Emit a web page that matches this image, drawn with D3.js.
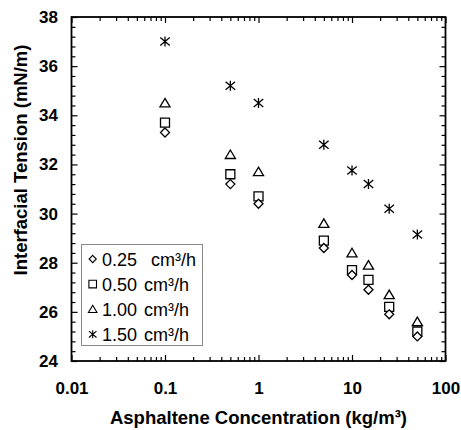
<!DOCTYPE html>
<html>
<head>
<meta charset="utf-8">
<script src="https://cdn.jsdelivr.net/npm/d3@7"></script>
<style>
  html, body { margin: 0; padding: 0; background: #fff; }
  svg { display: block; }
  text { font-family: "Liberation Sans", Arial, sans-serif; fill: #000; }
</style>
</head>
<body>
<svg id="chart" width="461" height="430"></svg>
<script>
// Asphaltene concentration (kg/m³)
const concentrations = [0.1, 0.5, 1, 5, 10, 15, 25, 50];

// Interfacial tension (mN/m) for each flow rate
const ift025 = [33.3, 31.2, 30.4, 28.6, 27.5, 26.9, 25.9, 25.0];
const ift050 = [33.7, 31.6, 30.7, 28.9, 27.7, 27.3, 26.2, 25.2];
const ift100 = [34.5, 32.4, 31.7, 29.6, 28.4, 27.9, 26.7, 25.6];
const ift150 = [37.0, 35.2, 34.5, 32.8, 31.75, 31.2, 30.2, 29.15];

const flowRates = ["0.25", "0.50", "1.00", "1.50"];
const flowUnit = "cm³/h";

// Tick values
const xTickValues = [0.01, 0.1, 1, 10, 100];
const xTickLabels = ["0.01", "0.1", "1", "10", "100"];
const yTickValues = [24, 26, 28, 30, 32, 34, 36, 38];

const svg = d3.select("#chart");
const plotLeft = 71.5, plotRight = 445.5, plotTop = 17, plotBottom = 361;

const x = d3.scaleLog().domain([0.01, 100]).range([plotLeft, plotRight]);
const y = d3.scaleLinear().domain([24, 38]).range([plotBottom, plotTop]);

// minor ticks
const xMinor = [];
[0.01, 0.1, 1, 10].forEach(d => { for (let k = 2; k <= 9; k++) xMinor.push(d * k); });
const yMinor = d3.range(24, 38.001, 0.4).map(v => +v.toFixed(1)).filter(v => Math.abs(v / 2 - Math.round(v / 2)) > 1e-6);

const MAJ = 6, MIN = 4;
function styleAxis(g) {
  g.select(".domain").remove();
  g.selectAll(".tick line").attr("stroke", "#000").attr("stroke-width", 1.2);
}

// bottom axis with labels
svg.append("g").attr("transform", `translate(0,${plotBottom})`)
  .call(d3.axisBottom(x).tickValues(xTickValues).tickSize(-MAJ).tickPadding(21)
    .tickFormat((d, i) => xTickLabels[i]))
  .call(styleAxis)
  .call(g => g.selectAll("text").style("font-size", "17px").style("font-weight", "bold"));
svg.append("g").attr("transform", `translate(0,${plotBottom})`)
  .call(d3.axisBottom(x).tickValues(xMinor).tickSize(-MIN).tickFormat(""))
  .call(styleAxis);

// top axis
svg.append("g").attr("transform", `translate(0,${plotTop})`)
  .call(d3.axisTop(x).tickValues(xTickValues).tickSize(-MAJ).tickFormat(""))
  .call(styleAxis);
svg.append("g").attr("transform", `translate(0,${plotTop})`)
  .call(d3.axisTop(x).tickValues(xMinor).tickSize(-MIN).tickFormat(""))
  .call(styleAxis);

// left axis with labels
svg.append("g").attr("transform", `translate(${plotLeft},0)`)
  .call(d3.axisLeft(y).tickValues(yTickValues).tickSize(-MAJ).tickPadding(13.5).tickFormat(d3.format("d")))
  .call(styleAxis)
  .call(g => g.selectAll("text").style("font-size", "17px").style("font-weight", "bold"));
svg.append("g").attr("transform", `translate(${plotLeft},0)`)
  .call(d3.axisLeft(y).tickValues(yMinor).tickSize(-MIN).tickFormat(""))
  .call(styleAxis);

// right axis
svg.append("g").attr("transform", `translate(${plotRight},0)`)
  .call(d3.axisRight(y).tickValues(yTickValues).tickSize(-MAJ).tickFormat(""))
  .call(styleAxis);
svg.append("g").attr("transform", `translate(${plotRight},0)`)
  .call(d3.axisRight(y).tickValues(yMinor).tickSize(-MIN).tickFormat(""))
  .call(styleAxis);

// plot frame
svg.append("rect")
  .attr("x", plotLeft).attr("y", plotTop)
  .attr("width", plotRight - plotLeft).attr("height", plotBottom - plotTop)
  .attr("fill", "none").attr("stroke", "#000").attr("stroke-width", 1.8);

// axis titles
svg.append("text")
  .attr("x", (plotLeft + plotRight) / 2).attr("y", 424)
  .attr("text-anchor", "middle")
  .style("font-size", "18.5px").style("font-weight", "bold")
  .text("Asphaltene Concentration (kg/m³)");

svg.append("text")
  .attr("transform", "translate(26.5,160) rotate(-90)")
  .attr("text-anchor", "middle")
  .style("font-size", "18.5px").style("font-weight", "bold")
  .text("Interfacial Tension (mN/m)");

// marker shapes, s = half size
const shapes = {
  diamond: s => `M0,${-s}L${s},0L0,${s}L${-s},0Z`,
  square: s => `M${-s},${-s}H${s}V${s}H${-s}Z`,
  triangle: s => `M0,${-s}L${s * 1.1},${s * 0.85}H${-s * 1.1}Z`,
  asterisk: s => `M0,${-s}V${s}M${-s * 0.95},${-s * 0.8}L${s * 0.95},${s * 0.8}M${-s * 0.95},${s * 0.8}L${s * 0.95},${-s * 0.8}`
};

const series = [
  { values: ift150, shape: "asterisk", size: 5, fill: "none" },
  { values: ift100, shape: "triangle", size: 4.6, fill: "#fff" },
  { values: ift050, shape: "square", size: 4.5, fill: "#fff" },
  { values: ift025, shape: "diamond", size: 4.5, fill: "#fff" }
];

series.forEach(s => {
  svg.append("g").selectAll("path")
    .data(concentrations.map((c, i) => [c, s.values[i]]))
    .join("path")
    .attr("transform", d => `translate(${x(d[0])},${y(d[1])})`)
    .attr("d", shapes[s.shape](s.size))
    .attr("fill", s.fill)
    .attr("stroke", "#000")
    .attr("stroke-width", 1.3);
});

// legend
const legend = svg.append("g");
legend.append("rect")
  .attr("x", 81.5).attr("y", 244.5).attr("width", 121).attr("height", 101)
  .attr("fill", "#fff").attr("stroke", "#888").attr("stroke-width", 1);

const legendShapes = ["diamond", "square", "triangle", "asterisk"];
const legendSizes = [3.6, 3.8, 3.9, 4];
legendShapes.forEach((shape, i) => {
  const cy = 259 + i * 25.1;
  legend.append("path")
    .attr("transform", `translate(92.7,${cy})`)
    .attr("d", shapes[shape](legendSizes[i]))
    .attr("fill", shape === "asterisk" ? "none" : "#fff")
    .attr("stroke", "#000").attr("stroke-width", 1.1);
  legend.append("text")
    .attr("x", 102).attr("y", cy + 6.5)
    .style("font-size", "18px")
    .text(flowRates[i]);
  legend.append("text")
    .attr("x", i === 0 ? 151 : 144).attr("y", cy + 6.5)
    .style("font-size", "18px")
    .text(flowUnit);
});
</script>
</body>
</html>
